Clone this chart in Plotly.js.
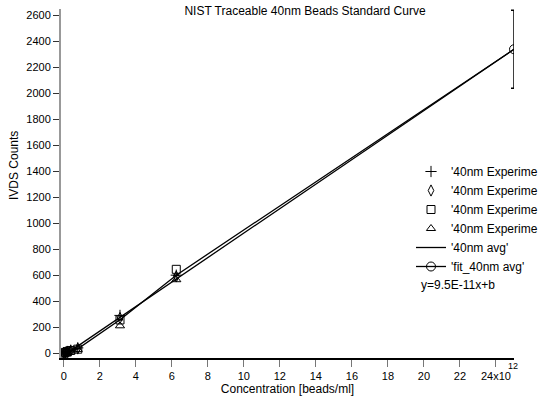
<!DOCTYPE html>
<html><head><meta charset="utf-8">
<script src="https://cdn.plot.ly/plotly-3.0.1.min.js"></script>
<style>body{margin:0;background:#fff}#c{width:541px;height:406px}</style>
</head><body><div id="c"></div>
<script>
// concentration in units of 1e12 beads/ml
const conc = [0, 0.098, 0.195, 0.39, 0.78, 3.125, 6.25];
const exp1 = [0, 6, 12, 22, 40, 290, 600];
const exp2 = [0, 4, 10, 18, 35, 270, 590];
const exp3 = [0, 5, 11, 20, 30, 255, 645];
const exp4 = [0, 3, 8, 16, 28, 210, 565];
const avgX = [0, 0.098, 0.195, 0.39, 0.78, 3.125, 6.25, 25];
const avgY = [0, 5, 10, 19, 33, 256, 600, 2340];
const avgErr = [0, 0, 0, 0, 0, 0, 0, 300];
const fitX = [0, 25];
const fitY = [-20, 2340];
const xTickVals = [0,2,4,6,8,10,12,14,16,18,20,22,24];
const xTickText = ['0','2','4','6','8','10','12','14','16','18','20','22','24x10'];
const yTickVals = [0,200,400,600,800,1000,1200,1400,1600,1800,2000,2200,2400,2600];

const expName = "'40nm Experime";
const mk = (sym) => ({symbol: sym, size: 8, color: '#000', line: {color: '#000', width: 1}});
const traces = [
  {x: conc, y: exp1, mode: 'markers', name: expName, marker: mk('cross-thin-open')},
  {x: conc, y: exp2, mode: 'markers', name: expName, marker: mk('diamond-tall-open')},
  {x: conc, y: exp3, mode: 'markers', name: expName, marker: mk('square-open')},
  {x: conc, y: exp4, mode: 'markers', name: expName, marker: mk('triangle-up-open')},
  {x: avgX, y: avgY, mode: 'lines', name: "'40nm avg'", line: {color: '#000', width: 1.3},
   error_y: {type: 'data', array: avgErr, color: '#000', thickness: 1.5, width: 3}},
  {x: fitX, y: fitY, mode: 'lines+markers', name: "'fit_40nm avg'", line: {color: '#000', width: 1.3},
   marker: {symbol: 'circle-open', size: 9, color: '#000', line: {color: '#000', width: 1}}}
];
const L = 61, R = 27, T = 9, B = 48, W = 541 - L - R, H = 406 - T - B;
const px = (x) => (x - L) / W;
const py = (y) => (406 - B - y) / H;
const layout = {
  width: 541, height: 406,
  margin: {l: L, r: R, t: T, b: B, autoexpand: false},
  paper_bgcolor: '#fff', plot_bgcolor: '#fff',
  font: {family: 'Liberation Sans, Arial, sans-serif', size: 11, color: '#000'},
  title: {text: 'NIST Traceable 40nm Beads Standard Curve', x: 305 / 541, xanchor: 'center', y: 1 - 11 / 406, yanchor: 'middle', font: {size: 12}},
  showlegend: true,
  legend: {x: px(411), xanchor: 'left', y: py(157), yanchor: 'top', font: {size: 12}, bgcolor: 'rgba(0,0,0,0)', tracegroupgap: 0},
  xaxis: {
    range: [-0.15, 25.0], tickvals: xTickVals, ticktext: xTickText,
    showgrid: false, zeroline: false, showline: true, linecolor: '#000', linewidth: 1.5,
    ticks: 'outside', ticklen: 7, tickcolor: '#777', tickwidth: 1,
    title: {text: 'Concentration [beads/ml]', font: {size: 12}, standoff: 3}
  },
  yaxis: {
    range: [-38, 2650], tickvals: yTickVals,
    showgrid: false, zeroline: false, showline: true, linecolor: '#999', linewidth: 2,
    ticks: 'outside', ticklen: 6, tickcolor: '#333', tickwidth: 1
  },
  annotations: [
    {text: 'IVDS Counts', xref: 'paper', yref: 'paper', x: px(14), y: py(166), xanchor: 'center', yanchor: 'middle', textangle: -90, showarrow: false, font: {size: 12}},
    {text: '12', xref: 'paper', yref: 'paper', x: px(513), y: py(366), xanchor: 'center', yanchor: 'middle', showarrow: false, font: {size: 9}},
    {text: 'y=9.5E-11x+b', xref: 'paper', yref: 'paper', x: px(419), y: py(285), xanchor: 'left', yanchor: 'middle', showarrow: false, font: {size: 12}}
  ]
};
Plotly.newPlot('c', traces, layout, {displayModeBar: false, staticPlot: true});
</script></body></html>
